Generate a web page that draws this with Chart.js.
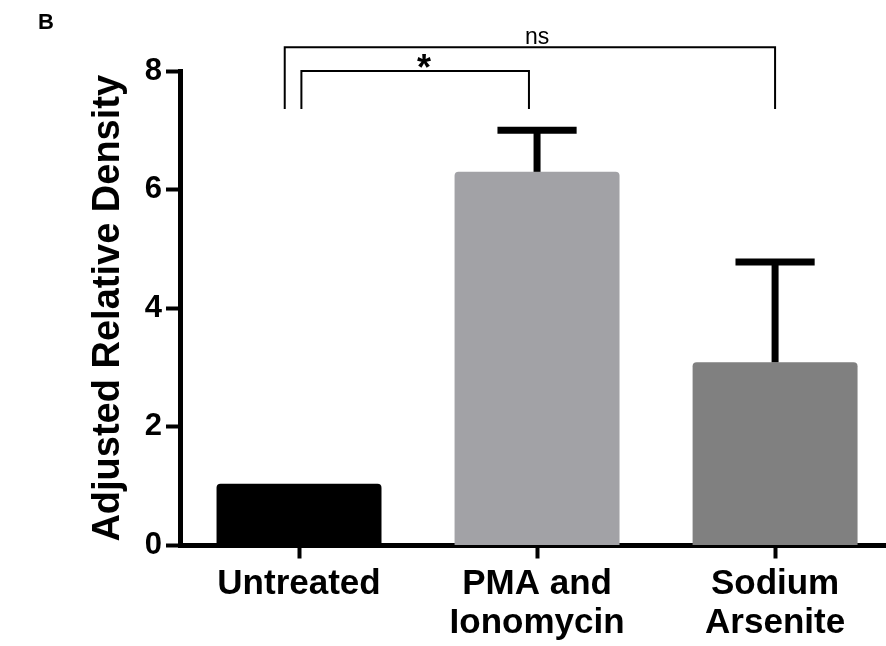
<!DOCTYPE html>
<html><head><meta charset="utf-8">
<script src="https://cdn.jsdelivr.net/npm/chart.js@4"></script>
<style>html,body{margin:0;padding:0;background:#fff;} #wrap{width:886px;height:646px;position:relative;}</style>
</head><body><div id="wrap"><canvas id="c" width="886" height="646"></canvas></div>
<script>
const categories = [['Untreated'], ['PMA and', 'Ionomycin'], ['Sodium', 'Arsenite']];
const values = [1.04, 6.30, 3.09];
const errors = [0, 0.70, 1.69];
const yTicks = [0, 2, 4, 6, 8];
const barColors = ['#000000', '#a2a2a6', '#808080'];
const bracketFrom = [0.01, -0.06];
const bracketTo = [0.966, 2.0];
const bracketLevel = [8.0, 8.4];
const bracketLegBottom = [7.36, 7.36];
const bracketLabelX = [0.525, 1.0];
const bracketLabels = ['*', 'ns'];
const panelLabel = 'B';
const yTitle = 'Adjusted Relative Density';

const FAM = '"Liberation Sans", Arial, Helvetica, sans-serif';

const overlay = {
  id: 'overlay',
  afterDatasetsDraw(chart) {
    const ctx = chart.ctx, ys = chart.scales.y;
    const meta = chart.getDatasetMeta(0);
    ctx.save();
    ctx.strokeStyle = '#000';
    ctx.lineCap = 'butt';
    meta.data.forEach((bar, i) => {
      if (!errors[i]) return;
      const base = ys.getPixelForValue(values[i]);
      const top = ys.getPixelForValue(values[i] + errors[i]);
      ctx.lineWidth = 7;
      ctx.beginPath();
      ctx.moveTo(bar.x, base);
      ctx.lineTo(bar.x, top);
      ctx.stroke();
      const half = bar.width * 0.24;
      ctx.beginPath();
      ctx.moveTo(bar.x - half, top);
      ctx.lineTo(bar.x + half, top);
      ctx.stroke();
    });
    ctx.restore();
  },
  afterDraw(chart) {
    const ctx = chart.ctx, xs = chart.scales.x, ys = chart.scales.y;
    ctx.save();
    ctx.strokeStyle = '#000';
    ctx.fillStyle = '#000';
    ctx.lineWidth = 2;
    ctx.lineJoin = 'miter';
    bracketLabels.forEach((lab, i) => {
      const x1 = xs.getPixelForValue(bracketFrom[i]);
      const x2 = xs.getPixelForValue(bracketTo[i]);
      const yl = ys.getPixelForValue(bracketLevel[i]);
      const yb = ys.getPixelForValue(bracketLegBottom[i]);
      ctx.beginPath();
      ctx.moveTo(x1, yb);
      ctx.lineTo(x1, yl);
      ctx.lineTo(x2, yl);
      ctx.lineTo(x2, yb);
      ctx.stroke();
      ctx.font = lab === '*' ? 'bold 36px ' + FAM : '23px ' + FAM;
      ctx.textAlign = 'center';
      ctx.textBaseline = 'alphabetic';
      const m = ctx.measureText(lab);
      const bottom = yl - 3;
      ctx.fillText(lab, xs.getPixelForValue(bracketLabelX[i]), bottom - m.actualBoundingBoxDescent);
    });
    ctx.font = 'bold 22px ' + FAM;
    ctx.textAlign = 'left';
    ctx.textBaseline = 'alphabetic';
    ctx.fillText(panelLabel, 38, 29);
    ctx.restore();
  }
};

new Chart(document.getElementById('c'), {
  type: 'bar',
  data: {
    datasets: [{
      data: values.map((v, i) => ({ x: i, y: v })),
      backgroundColor: barColors,
      borderWidth: 0,
      borderRadius: 4,
      borderSkipped: 'start',
      barPercentage: 0.693,
      categoryPercentage: 1
    }]
  },
  options: {
    responsive: false,
    devicePixelRatio: 1,
    animation: false,
    layout: { padding: { top: 71, left: 0, right: 0, bottom: 0 } },
    plugins: { legend: { display: false }, tooltip: { enabled: false }, title: { display: false } },
    scales: {
      x: {
        type: 'linear',
        min: -0.5,
        max: 2.466,
        offset: false,
        afterBuildTicks: s => { s.ticks = categories.map((c, i) => ({ value: i })); },
        afterFit: s => { s.height = 100.5; },
        grid: { display: true, offset: false, drawOnChartArea: false, drawTicks: true, tickLength: 13, tickWidth: 4, tickColor: '#000', color: '#000' },
        border: { display: true, width: 5, color: '#000' },
        ticks: {
          color: '#000',
          font: { family: FAM, size: 35, weight: 'bold', lineHeight: 1.12 },
          padding: 6, maxRotation: 0, autoSkip: false,
          callback: v => categories[v]
        }
      },
      y: {
        min: 0, max: 8,
        afterBuildTicks: s => { s.ticks = yTicks.map(v => ({ value: v })); },
        afterFit: s => { s.width = 180; },
        grid: { display: true, drawOnChartArea: false, drawTicks: true, tickLength: 14, tickWidth: 4, tickColor: '#000', color: '#000' },
        border: { display: true, width: 5, color: '#000' },
        ticks: { color: '#000', font: { family: FAM, size: 31, weight: 'bold' }, padding: 4 },
        title: { display: true, text: yTitle, color: '#000', font: { family: FAM, size: 38, weight: 'bold' }, padding: { top: 86, bottom: 0 } }
      }
    }
  },
  plugins: [overlay]
});
</script>
</body></html>
